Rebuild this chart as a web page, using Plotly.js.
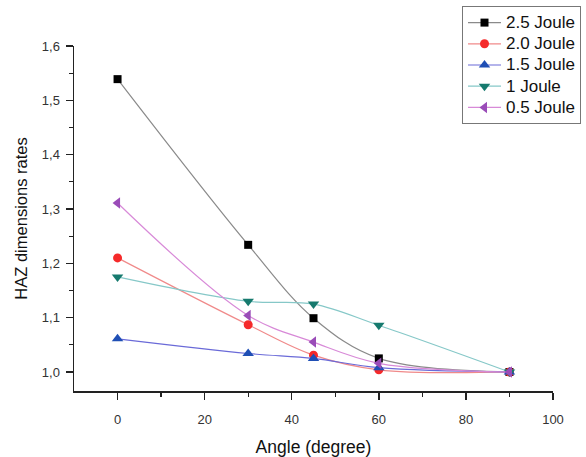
<!DOCTYPE html>
<html>
<head>
<meta charset="utf-8">
<script src="https://cdn.plot.ly/plotly-3.0.1.min.js"></script>
<style>html,body{margin:0;padding:0;background:#fff;}#chart{width:586px;height:457px;}</style>
</head>
<body>
<div id="chart"></div>
<script>
const angles = [0, 30, 45, 60, 90];
const seriesNames = ["2.5 Joule", "2.0 Joule", "1.5 Joule", "1 Joule", "0.5 Joule"];
const j25 = [1.539, 1.234, 1.099, 1.025, 1.0];
const j20 = [1.210, 1.087, 1.031, 1.004, 1.0];
const j15 = [1.061, 1.034, 1.025, 1.008, 1.0];
const j10 = [1.175, 1.130, 1.125, 1.086, 1.0];
const j05 = [1.311, 1.104, 1.055, 1.016, 1.0];
const xTicks = [0, 20, 40, 60, 80, 100];
const yTicks = [1.0, 1.1, 1.2, 1.3, 1.4, 1.5, 1.6];

const values = [j25, j20, j15, j10, j05];
const markerColors = ["#000000", "#f52a2a", "#1f4fb5", "#167a6e", "#9a4cb8"];
const lineColors = ["#8a8a8a", "#f08a8a", "#6a6ad8", "#86c8c8", "#d88ad8"];
const symbols = ["square", "circle", "triangle-up", "triangle-down", "triangle-left"];
const sizes = [8, 9, 10, 10, 10];

const traces = values.map((v, i) => ({
  x: angles, y: v, name: '<span style="font-size:17px">' + seriesNames[i] + '</span>',
  type: "scatter", mode: "lines+markers",
  line: {color: lineColors[i], width: 1.2, shape: "spline", smoothing: 1},
  marker: {color: markerColors[i], symbol: symbols[i], size: sizes[i], line: {width: 0}}
}));

const layout = {
  width: 586, height: 457,
  margin: {l: 74, r: 33, t: 46, b: 66, autoexpand: false},
  paper_bgcolor: "#ffffff", plot_bgcolor: "#ffffff",
  separators: ", ",
  font: {family: "Liberation Sans, Arial, sans-serif", color: "#222"},
  showlegend: true,
  legend: {xref: "container", yref: "container", x: 462 / 586, y: 1 - 6 / 457,
    xanchor: "left", yanchor: "top", bgcolor: "#ffffff",
    bordercolor: "#777", borderwidth: 1, font: {size: 14, color: "#111"},
    tracegroupgap: 0, itemwidth: 33},
  xaxis: {range: [-10, 100], tickvals: xTicks, ticktext: xTicks.map(String), automargin: false,
    showgrid: false, zeroline: false, showline: true, linecolor: "#222", linewidth: 1.5,
    ticks: "outside", ticklen: 7, tickwidth: 1.5, tickcolor: "#222", ticklabelstandoff: 9,
    minor: {tickvals: [10, 30, 50, 70, 90], ticks: "outside", ticklen: 4, tickwidth: 1.2, tickcolor: "#222"},
    tickfont: {size: 13, color: "#333"},
    title: {text: "Angle (degree)", font: {size: 17.5, color: "#111"}, standoff: 16}},
  yaxis: {range: [0.965, 1.6], tickvals: yTicks, tickformat: ".1f", automargin: false,
    showgrid: false, zeroline: false, showline: true, linecolor: "#222", linewidth: 1.5,
    ticks: "outside", ticklen: 7, tickwidth: 1.5, tickcolor: "#222", ticklabelstandoff: 3,
    minor: {tickvals: [1.05, 1.15, 1.25, 1.35, 1.45, 1.55], ticks: "outside", ticklen: 4, tickwidth: 1.2, tickcolor: "#222"},
    tickfont: {size: 13, color: "#333"},
    title: {text: "HAZ dimensions rates", font: {size: 16.5, color: "#111"}, standoff: 10}}
};

Plotly.newPlot("chart", traces, layout, {displayModeBar: false, staticPlot: true});
</script>
</body>
</html>
